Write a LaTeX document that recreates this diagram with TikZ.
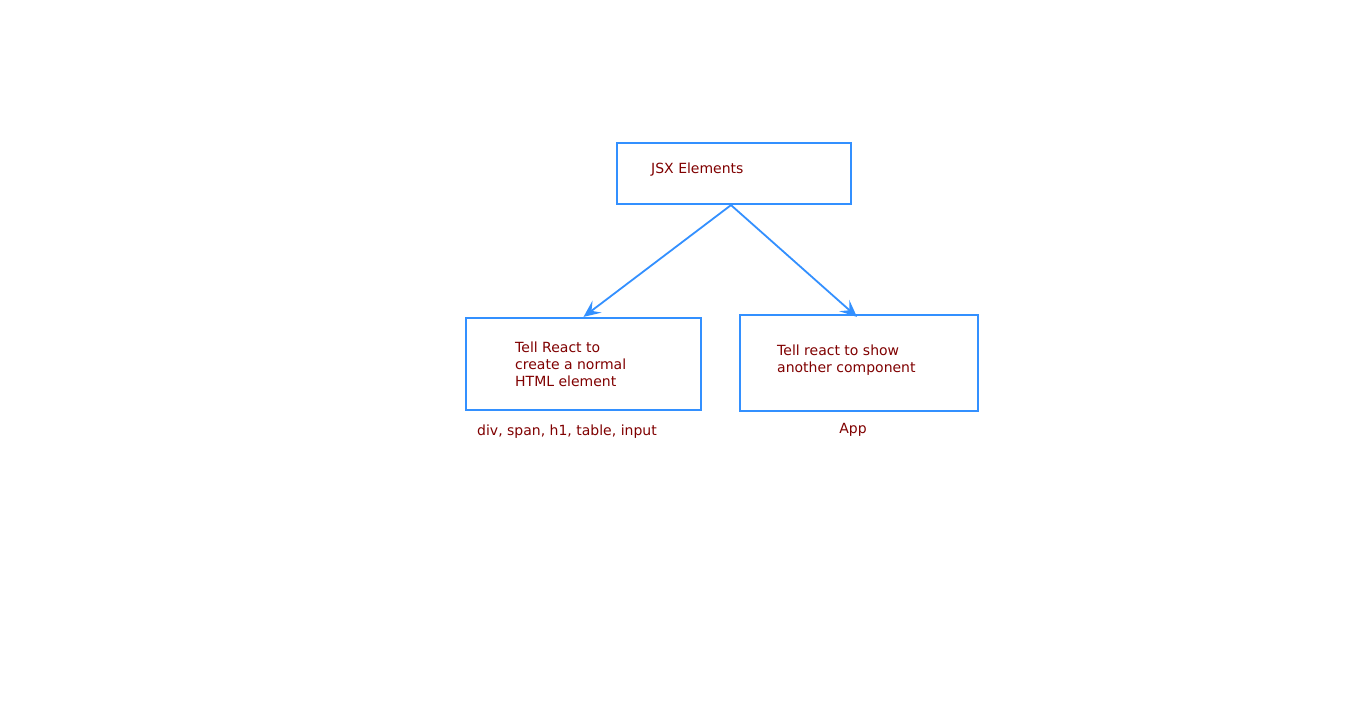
\documentclass[tikz,border=0pt]{standalone}
\usepackage{fontspec}
\setmainfont{DejaVu Sans}
\usetikzlibrary{arrows.meta,calc}
\definecolor{boxblue}{RGB}{51,144,255}
\definecolor{txtred}{RGB}{128,0,0}
\tikzset{
  box/.style={draw=boxblue, line width=2.2pt, inner sep=0pt},
  lbl/.style={text=txtred, font=\fontsize{14}{17}\selectfont, inner sep=0pt, align=left, anchor=base west},
  conn/.style={draw=boxblue, line width=1.8pt, -{Stealth[length=17pt,width=15pt,inset=7pt]}}
}
\begin{document}
\begin{tikzpicture}[x=1pt,y=1pt]
\useasboundingbox[fill=white] (0,0) rectangle (1366,705);
% image coordinates: y_tikz = 705 - y_image
\node[box, minimum width=234pt, minimum height=61pt] (jsx) at (734,531.5) {};
\node[box, minimum width=235pt, minimum height=92pt] (html) at (583.5,341) {};
\node[box, minimum width=238pt, minimum height=96pt] (comp) at (859,342) {};
\node[lbl] (tjsx) at (651,531) {JSX Elements};
\node[lbl] (thtml) at (515,318) {Tell React to\\create a normal\\HTML element};
\node[lbl] (tcomp) at (777,332) {Tell react to show\\another component};
\node[lbl] (tdiv) at (477,269) {div, span, h1, table, input};
\node[lbl, anchor=base] (tapp) at (853,271) {App};
\draw[conn] ($(jsx.south)+(-3,0)$) -- (html.north);
\draw[conn] ($(jsx.south)+(-3,0)$) -- ($(comp.north)+(-2,-3)$);
\end{tikzpicture}
\end{document}
